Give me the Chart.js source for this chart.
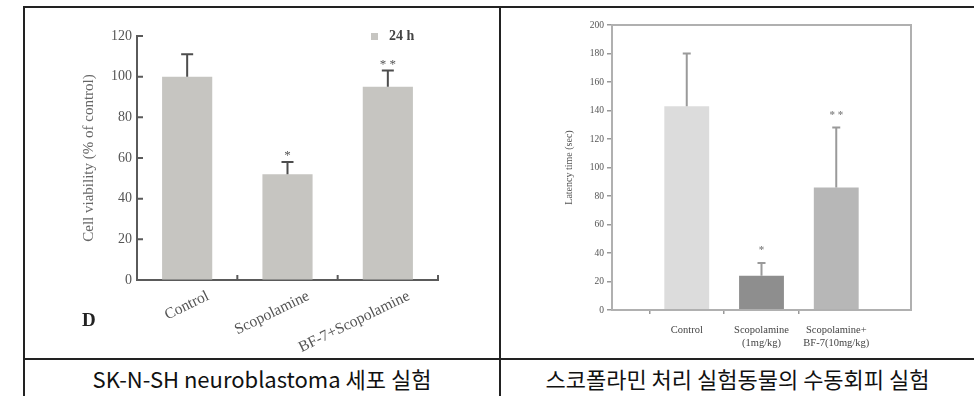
<!DOCTYPE html>
<html>
<head>
<meta charset="utf-8">
<script src="https://cdn.jsdelivr.net/npm/chart.js@4/dist/chart.umd.min.js"></script>
<style>
  html, body { margin: 0; padding: 0; background: #fff; }
  body { width: 974px; height: 396px; position: relative; overflow: hidden; font-family: "Noto Sans CJK KR", sans-serif; }
  .rule { position: absolute; background: #222; }
  canvas { position: absolute; }
  #viability { left: 26px; top: 9px; filter: blur(0.6px); }
  #latency { left: 502px; top: 9px; filter: blur(0.7px); }
  .cap { position: absolute; top: 361px; height: 35px; line-height: 35px; text-align: center; font-size: 22px; color: #111; white-space: nowrap; }
</style>
</head>
<body>
<div class="rule" style="left:23px;top:6px;width:951px;height:2px"></div>
<div class="rule" style="left:23px;top:6px;width:2px;height:390px"></div>
<div class="rule" style="left:499px;top:6px;width:2px;height:390px"></div>
<div class="rule" style="left:23px;top:358px;width:951px;height:2px"></div>

<canvas id="viability" width="472" height="349"></canvas>
<canvas id="latency" width="472" height="349"></canvas>

<div class="cap" style="left:25px;width:474px">SK-N-SH neuroblastoma 세포 실험</div>
<div class="cap" style="left:501px;width:473px">스코폴라민 처리 실험동물의 수동회피 실험</div>

<script>
// Cell viability, SK-N-SH cells, 24 h
const viabilityGroups = ['Control', 'Scopolamine', 'BF-7+Scopolamine'];
const viabilityMean = [100, 52, 95];
const viabilityErr = [11, 6, 8];
const viabilityMarks = ['', '*', '* *'];

// Passive avoidance latency in scopolamine-treated animals
const latencyGroups = [['Control'], ['Scopolamine', '(1mg/kg)'], ['Scopolamine+', 'BF-7(10mg/kg)']];
const latencyMean = [143, 24, 86];
const latencyErr = [37, 9, 42];
const latencyMarks = ['', '*', '* *'];
const latencyColors = ['#dcdcdc', '#8e8e8e', '#b7b7b7'];

const SERIF = '"Liberation Serif", "DejaVu Serif", serif';

// Draws whisker + cap above each bar and the significance marks over it
function errorBars(errors, marks, style) {
  return {
    id: 'errorBars',
    afterDatasetsDraw(chart) {
      const ctx = chart.ctx;
      const ys = chart.scales.y;
      const ds = chart.data.datasets[0];
      const meta = chart.getDatasetMeta(0);
      ctx.save();
      meta.data.forEach((bar, i) => {
        const v = ds.data[i];
        const e = errors[i];
        if (v == null || e == null) return;
        const x = bar.x;
        const yTop = ys.getPixelForValue(v + e);
        const yBar = ys.getPixelForValue(v);
        ctx.strokeStyle = style.color;
        ctx.lineWidth = style.width;
        ctx.beginPath();
        ctx.moveTo(x, yBar);
        ctx.lineTo(x, yTop);
        ctx.moveTo(x - style.cap / 2, yTop);
        ctx.lineTo(x + style.cap / 2, yTop);
        ctx.stroke();
        const m = marks[i];
        if (m) {
          ctx.fillStyle = style.markColor;
          ctx.font = style.markFont;
          ctx.textAlign = 'center';
          ctx.textBaseline = 'alphabetic';
          ctx.fillText(m, x, yTop - style.markGap);
        }
      });
      ctx.restore();
    }
  };
}

// Left panel extras: inward y ticks, group separators, panel letter, legend
const viabilityDecor = {
  id: 'viabilityDecor',
  afterDraw(chart) {
    const ctx = chart.ctx;
    const ys = chart.scales.y, xs = chart.scales.x;
    const a = chart.chartArea;
    ctx.save();
    ctx.strokeStyle = '#5a5a5a';
    ctx.lineWidth = 2;
    ctx.beginPath();
    ys.ticks.forEach(t => {
      const py = ys.getPixelForValue(t.value);
      ctx.moveTo(a.left, py);
      ctx.lineTo(a.left + 6, py);
    });
    for (let i = 0; i < viabilityGroups.length; i++) {
      const px = xs.getPixelForValue(i + 0.5);
      ctx.moveTo(px, a.bottom);
      ctx.lineTo(px, a.bottom - 5);
    }
    ctx.stroke();

    ctx.fillStyle = '#222';
    ctx.font = 'bold 19px ' + SERIF;
    ctx.textAlign = 'left';
    ctx.textBaseline = 'middle';
    ctx.fillText('D', 56, 312);

    ctx.fillStyle = '#c6c5c1';
    ctx.fillRect(345, 24, 7, 7);
    ctx.fillStyle = '#444';
    ctx.font = 'bold 14px ' + SERIF;
    ctx.fillText('24 h', 363, 27);
    ctx.restore();
  }
};

new Chart(document.getElementById('viability'), {
  type: 'bar',
  data: {
    labels: viabilityGroups,
    datasets: [{
      data: viabilityMean,
      backgroundColor: '#c6c5c1',
      barPercentage: 0.5,
      categoryPercentage: 1
    }]
  },
  options: {
    responsive: false,
    animation: false,
    events: [],
    layout: { padding: { left: 50, top: 27, right: 60, bottom: 0 } },
    plugins: { legend: { display: false }, tooltip: { enabled: false } },
    scales: {
      x: {
        grid: { display: true, drawOnChartArea: false, drawTicks: false, color: 'rgba(0,0,0,0)' },
        border: { color: '#5a5a5a', width: 2 },
        ticks: {
          minRotation: 26, maxRotation: 26, labelOffset: 21, padding: 7,
          color: '#555', font: { family: SERIF, size: 15.5 }
        },
        afterFit(s) { s.height = 78; }
      },
      y: {
        min: 0, max: 120,
        ticks: { stepSize: 20, padding: 5, color: '#555', font: { family: SERIF, size: 14 } },
        grid: { display: true, drawOnChartArea: false, drawTicks: false, color: 'rgba(0,0,0,0)' },
        border: { color: '#5a5a5a', width: 2 },
        title: {
          display: true, text: 'Cell viability (% of control)', color: '#666',
          font: { family: SERIF, size: 15 }, padding: { top: 4, bottom: 4 }
        },
        afterFit(s) { s.width = 61; }
      }
    }
  },
  plugins: [
    errorBars(viabilityErr, viabilityMarks, {
      color: '#4d4d4d', width: 2, cap: 12,
      markColor: '#555', markFont: '13px ' + SERIF, markGap: 3
    }),
    viabilityDecor
  ]
});

// Right panel: framed plot box
const latencyFrame = {
  id: 'latencyFrame',
  afterDraw(chart) {
    const ctx = chart.ctx, a = chart.chartArea;
    ctx.save();
    ctx.strokeStyle = '#b0b0b0';
    ctx.lineWidth = 2;
    ctx.strokeRect(a.left, a.top, a.right - a.left, a.bottom - a.top);
    ctx.restore();
  }
};

const latencyLabels = [''].concat(latencyGroups, ['']);
const latencyData = [null].concat(latencyMean, [null]);
const latencyErrPadded = [null].concat(latencyErr, [null]);
const latencyMarksPadded = [''].concat(latencyMarks, ['']);

new Chart(document.getElementById('latency'), {
  type: 'bar',
  data: {
    labels: latencyLabels,
    datasets: [{
      data: latencyData,
      backgroundColor: ['rgba(0,0,0,0)'].concat(latencyColors, ['rgba(0,0,0,0)']),
      barPercentage: 0.6,
      categoryPercentage: 1
    }]
  },
  options: {
    responsive: false,
    animation: false,
    events: [],
    layout: { padding: { left: 57, top: 16, right: 63, bottom: 0 } },
    plugins: { legend: { display: false }, tooltip: { enabled: false } },
    scales: {
      x: {
        offset: false,
        grid: {
          display: true, drawOnChartArea: false, drawTicks: true, tickLength: 4, lineWidth: 1.5,
          color: c => (c.index === 0 || c.index === latencyLabels.length - 1) ? 'rgba(0,0,0,0)' : '#999'
        },
        border: { color: '#b0b0b0', width: 2 },
        ticks: {
          autoSkip: false, maxRotation: 0, minRotation: 0, padding: 10,
          color: '#444', font: { family: SERIF, size: 10.5 }
        },
        afterFit(s) { s.height = 48; }
      },
      y: {
        min: 0, max: 200,
        ticks: { stepSize: 20, padding: 3, color: '#555', font: { family: SERIF, size: 9.5 } },
        grid: { display: true, drawOnChartArea: false, drawTicks: true, tickLength: 5, lineWidth: 1.5, color: '#999' },
        border: { color: '#b0b0b0', width: 2 },
        title: {
          display: true, text: 'Latency time (sec)', color: '#555',
          font: { family: SERIF, size: 10 }, padding: { top: 4, bottom: 4 }
        },
        afterFit(s) { s.width = 53; }
      }
    }
  },
  plugins: [
    errorBars(latencyErrPadded, latencyMarksPadded, {
      color: '#9a9a9a', width: 2, cap: 8,
      markColor: '#888', markFont: 'bold 11px ' + SERIF, markGap: 10
    }),
    latencyFrame
  ]
});
</script>
</body>
</html>
